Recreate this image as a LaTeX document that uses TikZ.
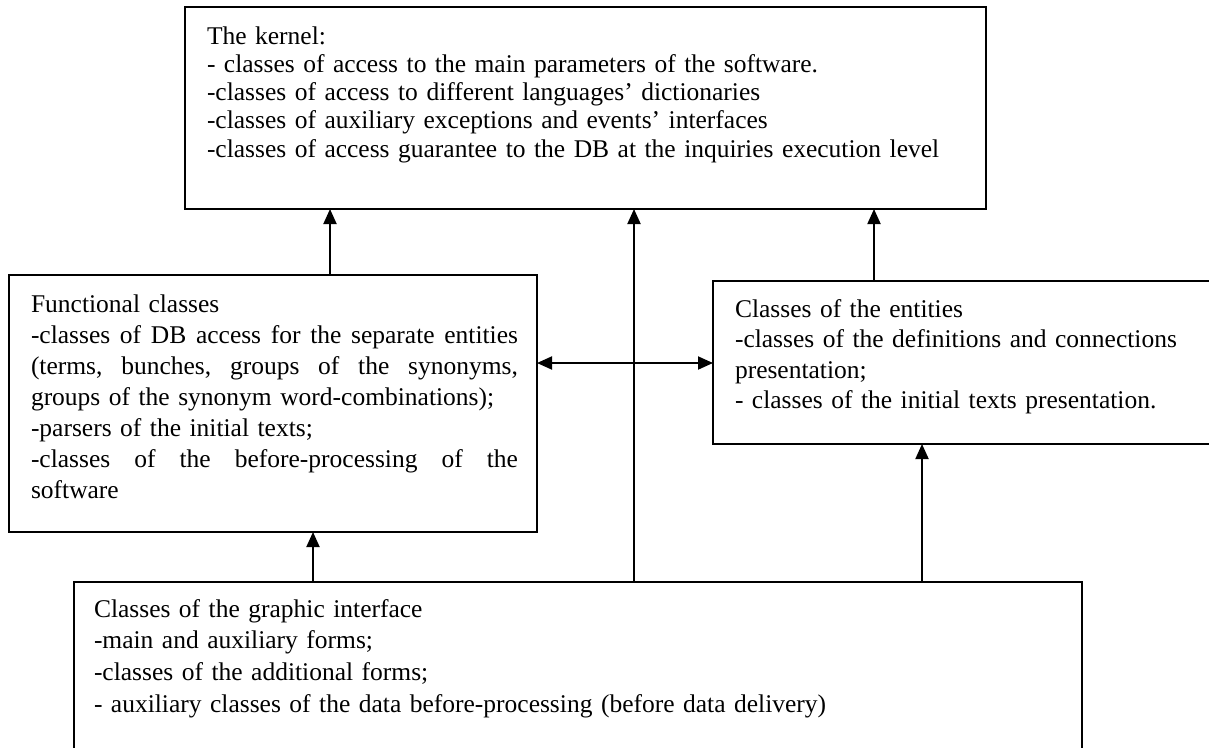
\documentclass[tikz,border=0pt]{standalone}
\usepackage{fontspec}
\setmainfont{Liberation Serif}
\usetikzlibrary{arrows.meta}
\newcommand{\jfill}{\hskip 0pt plus 1fill\relax}
\newcommand{\jline}[1]{\leavevmode\hbox to 487pt{#1}}
\begin{document}
\begin{tikzpicture}[x=1pt,y=-1pt,
  box/.style={draw=black,line width=1.9pt,rectangle,inner sep=0pt,outer sep=0pt,anchor=north west},
  txt/.style={anchor=base west,inner sep=0pt,outer sep=0pt,align=left},
  arr/.style={line width=1.9pt,-{Triangle[length=15pt,width=13pt]}},
  darr/.style={line width=1.9pt,{Triangle[length=15pt,width=13pt]}-{Triangle[length=15pt,width=13pt]}}]
\useasboundingbox (0,0) rectangle (1209,747);
\clip (0,0) rectangle (1209,747);
\fill[white] (0,0) rectangle (1209,747);
% boxes
\node[box,minimum width=801pt,minimum height=202pt] (kernel) at (185,7) {};
\node[box,minimum width=528pt,minimum height=257pt] (func) at (9,275) {};
\node[box,minimum width=502pt,minimum height=163pt] (ent) at (713,281) {};
\node[box,minimum width=1008pt,minimum height=172pt] (graph) at (74,582) {};
% texts
\node[txt,text width=780pt,font=\fontsize{25.5}{28.3}\selectfont] (kernelT) at (207,44)
 {The kernel:\\
  - classes of access to the main parameters of the software.\\
  -classes of access to different languages’ dictionaries\\
  -classes of auxiliary exceptions and events’ interfaces\\
  -classes of access guarantee to the DB at the inquiries execution level};
\node[txt,text width=500pt,font=\fontsize{25.5}{31}\selectfont] (funcT) at (31,312)
 {Functional classes\\
  \jline{-classes\jfill of\jfill DB\jfill access\jfill for\jfill the\jfill separate\jfill entities}\\
  \jline{(terms,\jfill bunches,\jfill groups\jfill of\jfill the\jfill synonyms,}\\
  groups of the synonym word-combinations);\\
  -parsers of the initial texts;\\
  \jline{-classes\jfill of\jfill the\jfill before-processing\jfill of\jfill the}\\
  software};
\node[txt,text width=470pt,font=\fontsize{25.5}{30.5}\selectfont] (entT) at (735,317)
 {Classes of the entities\\
  -classes of the definitions and connections\\
  presentation;\\
  - classes of the initial texts presentation.};
\node[txt,text width=980pt,font=\fontsize{25.5}{31.7}\selectfont] (graphT) at (94,617)
 {Classes of the graphic interface\\
  -main and auxiliary forms;\\
  -classes of the additional forms;\\
  - auxiliary classes of the data before-processing (before data delivery)};
% connectors
\draw[arr] ([xshift=321pt]func.north west) -- ([xshift=145pt]kernel.south west);
\draw[arr] ([xshift=560pt]graph.north west) -- ([xshift=449pt]kernel.south west);
\draw[arr] ([xshift=161pt]ent.north west) -- ([xshift=689pt]kernel.south west);
\draw[arr] ([xshift=239pt]graph.north west) -- ([xshift=304pt]func.south west);
\draw[arr] ([xshift=848pt]graph.north west) -- ([xshift=209pt]ent.south west);
\draw[darr] ([yshift=-88pt]func.north east) -- ([yshift=-82pt]ent.north west);
\end{tikzpicture}
\end{document}
